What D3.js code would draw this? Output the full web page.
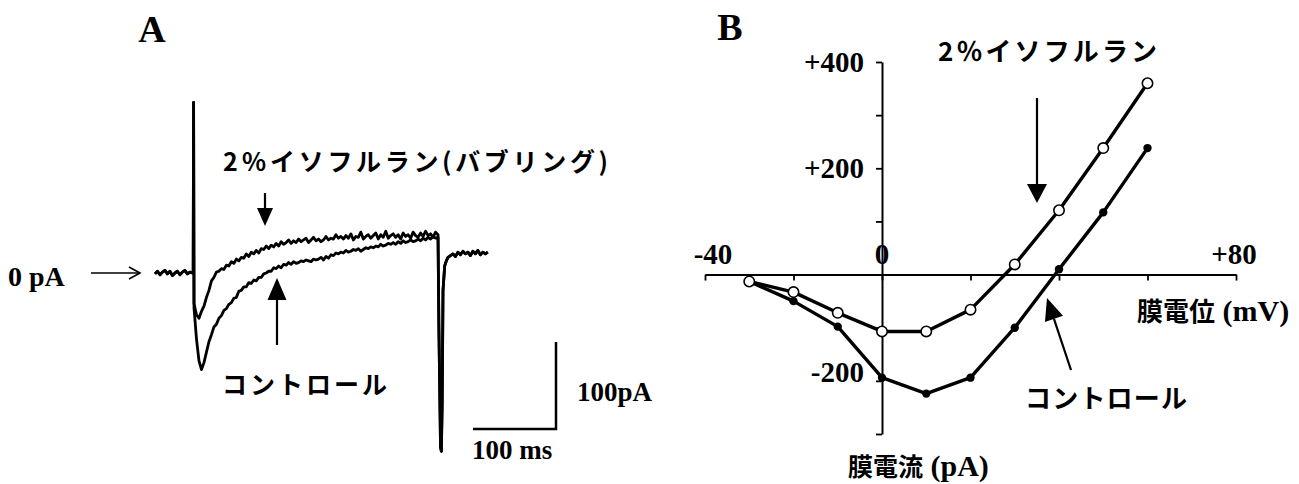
<!DOCTYPE html>
<html><head><meta charset="utf-8">
<script src="https://cdn.jsdelivr.net/npm/d3@7"></script>
<style>html,body{margin:0;padding:0;background:#fff;}svg{display:block;}</style>
</head><body>
<svg id="chart" width="1299" height="484"></svg>
<script>
// ---------- Panel A : current traces (time in ms, current in pA) ----------
const preTime    = [0,3,6,9,12,15,18,21,24,27,30,33,36,39,42,45,46];
const preCurrent = [-1,2,-2,1,3,-1,2,-3,0,2,-2,1,3,-1,1,0,0];
const stimTime = 46.5;
const stimCurrent = 196;
const respTime = d3.range(47, 342, 3); // sampling clock 47..341 ms
const isoResponse = [
  -35,-48,-52,-44,-38,-28,-20,-9,-5,1,
  2,5,4,9,8,13,11,16,14,18,
  17,22,19,24,22,26,23,28,27,31,
  28,32,30,34,31,36,33,35,38,34,
  37,35,39,36,38,40,35,38,41,37,
  39,36,38,42,38,40,39,44,40,42,
  39,43,40,45,38,42,41,47,39,42,
  44,40,43,46,39,44,41,48,40,43,
  45,41,44,39,46,42,44,40,47,43,
  41,46,42,48,43,45,41,47,44];
const controlResponse = [
  -40,-76,-101,-111,-103,-91,-79,-71,-62,-59,
  -52,-49,-43,-41,-36,-34,-29,-28,-21,-20,
  -16,-16,-11,-12,-8,-9,-5,-5,-1,0,
  2,2,6,5,8,6,10,9,12,10,
  13,11,12,14,13,15,14,13,16,15,
  16,18,15,19,17,21,20,23,22,24,
  23,26,24,25,27,26,28,25,27,29,
  28,30,29,31,30,33,31,32,34,33,
  35,33,36,34,37,35,36,38,36,37,
  39,37,40,38,41,39,42,40,41];
const tailTime    = [342,344,345,346,347,349,351,353,356,359,362,365,368,371,374,377,380,383,386,389,392,395,398,401];
const tailCurrent = [-60,-200,-205,-150,-20,8,14,18,20,22,19,24,21,25,22,24,20,25,22,26,21,24,22,24];

// ---------- Panel B : I-V relation ----------
const voltages  = [-30,-20,-10,0,10,20,30,40,50,60];
const isoIV     = [-13,-33,-72,-107,-107,-66,19,121,238,360];
const controlIV = [-13,-50,-98,-194,-224,-194,-100,10,117,238];
const xTickValues = [-40,-20,0,20,40,60,80];
const yTickValues = [-300,-200,-100,100,200,300,400];
const xTickLabels = [{v:-40,t:"-40",dx:8},{v:0,t:"0",dx:0},{v:80,t:"+80",dx:-2}];
const yTickLabels = [{v:400,t:"+400",dy:10},{v:200,t:"+200",dy:10},{v:-200,t:"-200",dy:1}];

const serif = "'Liberation Serif','Times New Roman',serif";
const jp = "'Noto Sans CJK JP','Noto Sans CJK SC',sans-serif";
const svg = d3.select("#chart");

const zip = (a,b) => a.map((v,i)=>[v,b[i]]);
function arrow(g,x1,y1,x2,y2,len,hw,sw){
  const dx=x2-x1, dy=y2-y1, L=Math.hypot(dx,dy), ux=dx/L, uy=dy/L;
  const bx=x2-ux*len, by=y2-uy*len;
  g.append("line").attr("x1",x1).attr("y1",y1).attr("x2",bx).attr("y2",by)
    .attr("stroke","#000").attr("stroke-width",sw);
  g.append("path").attr("d",`M${x2},${y2}L${bx-uy*hw},${by+ux*hw}L${bx+uy*hw},${by-ux*hw}Z`)
    .attr("fill","#000");
}
function label(x,y,txt,opts){
  const t = svg.append("text").attr("x",x).attr("y",y).text(txt)
    .attr("font-family",opts.font).attr("font-size",opts.size)
    .attr("font-weight",opts.weight||"normal")
    .attr("text-anchor",opts.anchor||"start");
  if(opts.central) t.attr("dominant-baseline","central");
  if(opts.len) t.attr("textLength",opts.len).attr("lengthAdjust","spacing");
  return t;
}

// ===== Panel A =====
const xA = d3.scaleLinear().domain([0,100]).range([155,238]);
const yA = d3.scaleLinear().domain([0,100]).range([273,186]);
const lineA = d3.line().x(d=>xA(d[0])).y(d=>yA(d[1]));
const pre = zip(preTime,preCurrent), tail = zip(tailTime,tailCurrent);
const controlTrace = [...pre,[stimTime,stimCurrent],...zip(respTime,controlResponse),...tail];
const isoTrace = [...pre,[stimTime,stimCurrent],...zip(respTime,isoResponse),...tail];
const gA = svg.append("g");
[controlTrace, isoTrace].forEach(tr=>{
  gA.append("path").datum(tr).attr("d",lineA).attr("fill","none")
    .attr("stroke","#000").attr("stroke-width",2.8).attr("stroke-linejoin","round");
});

label(152,42,"A",{font:serif,size:38,weight:"bold",anchor:"middle"});
label(8,286,"0 pA",{font:serif,size:28,weight:"bold"});
// 0 pA open arrow
gA.append("line").attr("x1",91).attr("y1",yA(0)).attr("x2",140).attr("y2",yA(0)).attr("stroke","#000").attr("stroke-width",1.6);
gA.append("polyline").attr("points",`129,${yA(0)-6} 140,${yA(0)} 129,${yA(0)+6}`).attr("fill","none").attr("stroke","#000").attr("stroke-width",1.6);

label(223,160,"2％イソフルラン(バブリング)",{font:jp,size:25,weight:"bold",central:true,len:385});
arrow(gA,265,193,265,226,18,8,2.2);
arrow(gA,277,345,277,278,22,9.5,2.2);
label(222,383,"コントロール",{font:jp,size:25,weight:"bold",central:true,len:165});

// scale bars
const barX = 556, barY = 429;
const barH = yA(0)-yA(100), barW = xA(100)-xA(0);
gA.append("path").attr("d",`M${barX},${barY-barH}V${barY}H${barX-barW}`)
  .attr("fill","none").attr("stroke","#000").attr("stroke-width",2.5);
label(577,401,"100pA",{font:serif,size:27,weight:"bold"});
label(472,459,"100 ms",{font:serif,size:27,weight:"bold"});

// ===== Panel B =====
const xB = d3.scaleLinear().domain([-40,80]).range([705,1236]);
const yB = d3.scaleLinear().domain([-300,400]).range([434,62]);
const gB = svg.append("g");
const xAxis = gB.append("g").attr("transform",`translate(0,${yB(0)})`)
  .call(d3.axisBottom(xB).tickValues(xTickValues).tickSize(6).tickSizeOuter(0).tickFormat(""));
const yAxis = gB.append("g").attr("transform",`translate(${xB(0)},0)`)
  .call(d3.axisLeft(yB).tickValues(yTickValues).tickSize(6).tickSizeOuter(0).tickFormat(""));
[xAxis,yAxis].forEach(a=>{
  a.select(".domain").attr("stroke","#000").attr("stroke-width",2);
  a.selectAll(".tick line").attr("stroke","#000").attr("stroke-width",1.8);
});
xTickLabels.forEach(d=>label(xB(d.v)+d.dx,yB(0)-11,d.t,{font:serif,size:29,weight:"bold",anchor:"middle"}));
yTickLabels.forEach(d=>label(xB(0)-18,yB(d.v)+d.dy,d.t,{font:serif,size:29,weight:"bold",anchor:"end"}));

const lineB = d3.line().x(d=>xB(d[0])).y(d=>yB(d[1]));
const ctrlPts = zip(voltages,controlIV), isoPts = zip(voltages,isoIV);
gB.append("path").datum(ctrlPts).attr("d",lineB).attr("fill","none").attr("stroke","#000").attr("stroke-width",3.4).attr("stroke-linejoin","round");
gB.append("path").datum(isoPts).attr("d",lineB).attr("fill","none").attr("stroke","#000").attr("stroke-width",3.4).attr("stroke-linejoin","round");
gB.selectAll(".cdot").data(ctrlPts).enter().append("circle")
  .attr("cx",d=>xB(d[0])).attr("cy",d=>yB(d[1])).attr("r",4.2).attr("fill","#000");
gB.selectAll(".idot").data(isoPts).enter().append("circle")
  .attr("cx",d=>xB(d[0])).attr("cy",d=>yB(d[1])).attr("r",5.2)
  .attr("fill","#fff").attr("stroke","#000").attr("stroke-width",1.6);

label(730,40,"B",{font:serif,size:38,weight:"bold",anchor:"middle"});
label(938,49,"2％イソフルラン",{font:jp,size:26,weight:"bold",central:true,len:219});
arrow(gB,1037,98,1037,203,19,10,2.2);
arrow(gB,1071,370,1047,298,22,9.5,2.2);
label(1025,396,"コントロール",{font:jp,size:26,weight:"bold",central:true,len:162});

const vl = svg.append("text").attr("x",1137).attr("y",321);
vl.append("tspan").text("膜電位").attr("font-family",jp).attr("font-size",26).attr("font-weight","bold");
vl.append("tspan").text(" (mV)").attr("font-family",serif).attr("font-size",30).attr("font-weight","bold");
const il = svg.append("text").attr("x",848).attr("y",476);
il.append("tspan").text("膜電流").attr("font-family",jp).attr("font-size",25).attr("font-weight","bold");
il.append("tspan").text(" (pA)").attr("font-family",serif).attr("font-size",30).attr("font-weight","bold");
</script>
</body></html>
